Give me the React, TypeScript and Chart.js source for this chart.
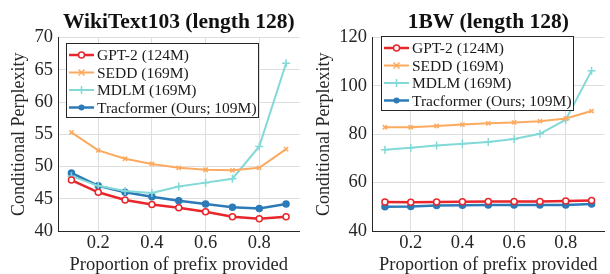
import React, { useEffect, useRef } from "react";
import { Chart, registerables } from "chart.js";

Chart.register(...registerables);

const xValues = [0.1, 0.2, 0.3, 0.4, 0.5, 0.6, 0.7, 0.8, 0.9];
const xTickValues = [0.2, 0.4, 0.6, 0.8];

const seriesNames = ["GPT-2 (124M)", "SEDD (169M)", "MDLM (169M)", "Tracformer (Ours; 109M)"];
const seriesColors = ["#E8262B", "#FCAA5F", "#82D9D7", "#2C7BB8"];

const wikiGPT2 = [47.9, 46.0, 44.8, 44.1, 43.6, 43.0, 42.2, 41.9, 42.2];
const wikiSEDD = [55.3, 52.5, 51.2, 50.4, 49.8, 49.5, 49.4, 49.8, 52.7];
const wikiMDLM = [48.5, 47.0, 46.2, 45.9, 46.9, 47.5, 48.1, 53.1, 66.0];
const wikiTrac = [49.0, 47.0, 46.0, 45.3, 44.7, 44.2, 43.7, 43.5, 44.2];

const bwGPT2 = [52.0, 51.9, 52.0, 52.1, 52.2, 52.2, 52.2, 52.4, 52.6];
const bwSEDD = [82.9, 82.9, 83.4, 84.0, 84.5, 84.9, 85.4, 86.5, 89.6];
const bwMDLM = [73.6, 74.4, 75.3, 76.1, 76.8, 78.0, 80.2, 86.0, 106.3];
const bwTrac = [50.0, 50.1, 50.5, 50.6, 50.7, 50.7, 50.8, 50.8, 51.2];

const SERIF = "'Liberation Serif', 'Times New Roman', serif";

type Panel = {
  title: string;
  data: number[][];
  yMin: number;
  yMax: number;
  yStep: number;
  yWidth: number;
  legendBox: [number, number, number, number];
};

const panels: Panel[] = [
  {
    title: "WikiText103 (length 128)",
    data: [wikiGPT2, wikiSEDD, wikiMDLM, wikiTrac],
    yMin: 40,
    yMax: 70,
    yStep: 5,
    yWidth: 58,
    legendBox: [66, 43, 192, 74],
  },
  {
    title: "1BW (length 128)",
    data: [bwGPT2, bwSEDD, bwMDLM, bwTrac],
    yMin: 40,
    yMax: 120,
    yStep: 20,
    yWidth: 67,
    legendBox: [76, 36, 192, 74],
  },
];

function drawMarker(ctx: CanvasRenderingContext2D, idx: number, x: number, y: number, color: string) {
  ctx.save();
  ctx.strokeStyle = color;
  ctx.fillStyle = color;
  ctx.lineWidth = 1.5;
  ctx.beginPath();
  if (idx === 0) {
    ctx.fillStyle = "#ffffff";
    ctx.arc(x, y, 3, 0, Math.PI * 2);
    ctx.fill();
    ctx.stroke();
  } else if (idx === 1) {
    const r = 3;
    ctx.moveTo(x - r, y - r);
    ctx.lineTo(x + r, y + r);
    ctx.moveTo(x - r, y + r);
    ctx.lineTo(x + r, y - r);
    ctx.stroke();
  } else if (idx === 2) {
    const r = 4;
    ctx.moveTo(x - r, y);
    ctx.lineTo(x + r, y);
    ctx.moveTo(x, y - r);
    ctx.lineTo(x, y + r);
    ctx.stroke();
  } else {
    ctx.arc(x, y, 3, 0, Math.PI * 2);
    ctx.fill();
  }
  ctx.restore();
}

const pointStyles = ["circle", "crossRot", "cross", "circle"];
const pointRadii = [3, 3, 4, 3];
const lineWidths = [2.5, 2, 2, 2.5];

function PanelChart({ panel }: { panel: Panel }) {
  const ref = useRef<HTMLCanvasElement | null>(null);
  useEffect(() => {
    if (!ref.current) return;
    const overlay = {
      id: "overlay",
      afterDraw(chart: any) {
        const ctx: CanvasRenderingContext2D = chart.ctx;
        const area = chart.chartArea;
        ctx.save();
        // title
        ctx.font = `bold 21.5px ${SERIF}`;
        ctx.fillStyle = "#111";
        ctx.textAlign = "center";
        ctx.textBaseline = "alphabetic";
        ctx.fillText(panel.title, (area.left + area.right) / 2, 28);
        // legend
        const [lx, ly, lw, lh] = panel.legendBox;
        ctx.fillStyle = "#ffffff";
        ctx.fillRect(lx, ly, lw, lh);
        ctx.strokeStyle = "#262626";
        ctx.lineWidth = 1;
        ctx.strokeRect(lx + 0.5, ly + 0.5, lw, lh);
        ctx.font = `15.5px ${SERIF}`;
        ctx.textAlign = "left";
        ctx.textBaseline = "middle";
        seriesNames.forEach((name, i) => {
          const cy = ly + 12 + i * 17.5;
          ctx.strokeStyle = seriesColors[i];
          ctx.lineWidth = lineWidths[i];
          ctx.beginPath();
          ctx.moveTo(lx + 3, cy);
          ctx.lineTo(lx + 28, cy);
          ctx.stroke();
          drawMarker(ctx, i, lx + 15.5, cy, seriesColors[i]);
          ctx.fillStyle = "#1a1a1a";
          ctx.fillText(name, lx + 31, cy + 1);
        });
        ctx.restore();
      },
    };
    const chart = new Chart(ref.current, {
      type: "line",
      data: {
        datasets: panel.data.map((vals, i) => ({
          label: seriesNames[i],
          data: xValues.map((x, j) => ({ x, y: vals[j] })),
          borderColor: seriesColors[i],
          backgroundColor: i === 0 ? "#ffffff" : seriesColors[i],
          borderWidth: lineWidths[i],
          pointStyle: pointStyles[i] as any,
          pointRadius: pointRadii[i],
          pointBorderWidth: 1.5,
          pointBorderColor: seriesColors[i],
          pointBackgroundColor: i === 0 ? "#ffffff" : seriesColors[i],
          tension: 0,
        })),
      },
      options: {
        responsive: false,
        animation: false,
        layout: { padding: { top: 37.5, right: 1, left: 0, bottom: 0 } },
        plugins: {
          legend: { display: false },
          title: { display: false },
          tooltip: { enabled: false },
        },
        scales: {
          x: {
            type: "linear",
            min: 0.05,
            max: 0.95,
            afterBuildTicks: (scale: any) => {
              scale.ticks = xTickValues.map((v) => ({ value: v }));
            },
            afterFit: (scale: any) => {
              scale.height = 43;
            },
            ticks: {
              font: { family: SERIF, size: 18.5 },
              color: "#262626",
              padding: 1,
              maxRotation: 0,
              callback: (v: any) => Number(v).toFixed(1),
            },
            grid: { color: "#dedede", lineWidth: 1, drawTicks: false },
            border: { display: true, color: "#262626", width: 1 },
            title: {
              display: true,
              text: "Proportion of prefix provided",
              font: { family: SERIF, size: 18.5, lineHeight: 1 },
              color: "#262626",
              padding: { top: 0, bottom: 0 },
            },
          },
          y: {
            type: "linear",
            min: panel.yMin,
            max: panel.yMax,
            ticks: {
              stepSize: panel.yStep,
              font: { family: SERIF, size: 18.5 },
              color: "#262626",
              padding: 5,
            },
            afterFit: (scale: any) => {
              scale.width = panel.yWidth;
            },
            grid: { color: "#dedede", lineWidth: 1, drawTicks: false },
            border: { display: true, color: "#262626", width: 1 },
            title: {
              display: true,
              text: "Conditional Perplexity",
              font: { family: SERIF, size: 18, lineHeight: 1.2 },
              color: "#262626",
              padding: { top: 8, bottom: 0 },
            },
          },
        },
      },
      plugins: [overlay],
    });
    return () => chart.destroy();
  }, [panel]);
  return <canvas ref={ref} width={305} height={274} style={{ display: "block", width: 305, height: 274 }} />;
}

export default function App() {
  return (
    <div
      style={{
        position: "fixed",
        left: 0,
        top: 0,
        width: 610,
        height: 274,
        display: "flex",
        background: "#ffffff",
      }}
    >
      <PanelChart panel={panels[0]} />
      <PanelChart panel={panels[1]} />
    </div>
  );
}
